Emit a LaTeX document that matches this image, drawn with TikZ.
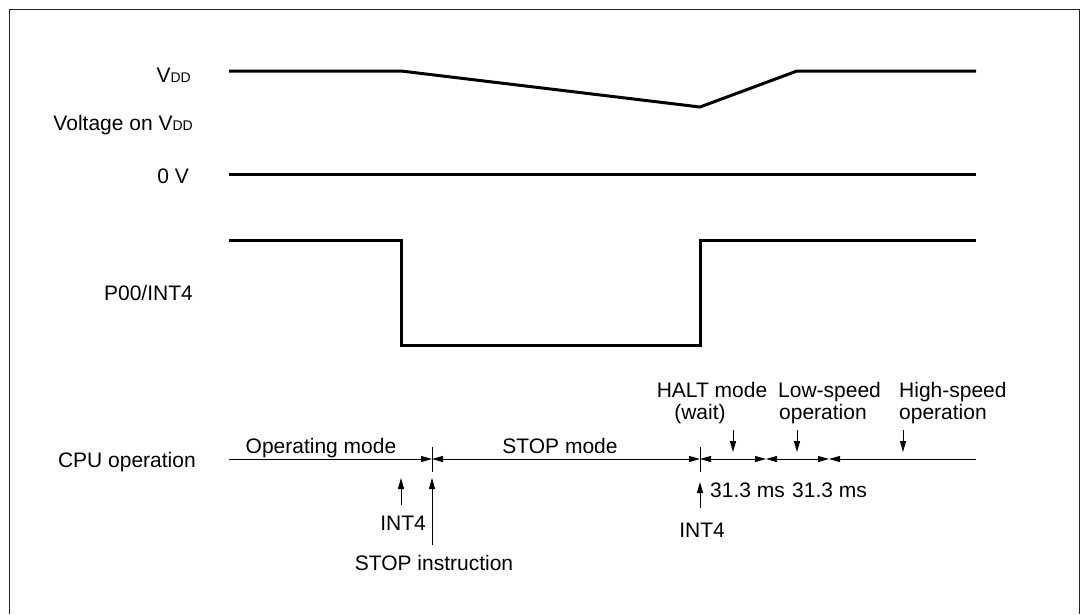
\documentclass[tikz,border=0pt]{standalone}
\usepackage{fontspec}
\setmainfont{Liberation Sans}
\usetikzlibrary{arrows.meta}
\newcommand{\vdd}{V{\fontsize{14}{14}\selectfont DD}}
\tikzset{ah/.tip={Triangle[length=11pt,width=6pt]}}
\begin{document}
\begin{tikzpicture}[x=1pt,y=-1pt,
  txt/.style={inner sep=0pt, font=\fontsize{21}{22}\selectfont},
  sig/.style={line width=3pt, line join=miter},
  dim/.style={line width=1pt},
  frm/.style={line width=1.3pt, draw=black!85},
  tk/.style={line width=1pt}]
\useasboundingbox (0,0) rectangle (1085,614);
% frame
\draw[frm] (9.5,614) -- (9.5,9.5) -- (1079.5,9.5) -- (1079.5,614);

% row labels
\node[txt, anchor=base east] (lvdd) at (191,82) {\vdd};
\node[txt, anchor=base east] (lvon) at (193,130) {Voltage on \vdd};
\node[txt, anchor=base east] (l0v) at (189,183) {0 V};
\node[txt, anchor=base east] (lp00) at (193,300) {P00/INT4};
\node[txt, anchor=base east] (lcpu) at (196,467) {CPU operation};

% voltage waveform
\draw[sig] (229,71) -- (401,71) -- (700,107) -- (797,71) -- (976,71);
\draw[sig] (229,174) -- (976,174);
% P00/INT4 waveform
\draw[sig] (229,240) -- (401,240) -- (401,345) -- (700,345) -- (700,240) -- (976,240);

% CPU operation time line
\coordinate (b0) at (229,459);
\coordinate (b1) at (432,459);
\coordinate (b2) at (700,459);
\coordinate (b3) at (766,459);
\coordinate (b4) at (829,459);
\coordinate (b5) at (976,459);
\draw[dim,-{ah}] (b0) -- (b1);
\draw[dim,{ah}-{ah}] (b1) -- (b2);
\draw[dim,{ah}-{ah}] (b2) -- (b3);
\draw[dim,{ah}-{ah}] (b3) -- (b4);
\draw[dim,{ah}-] (b4) -- (b5);
\draw[tk] ([yshift=-12.5pt]b1) -- ([yshift=12.5pt]b1);
\draw[tk] ([yshift=-12.5pt]b2) -- ([yshift=12.5pt]b2);

% mode labels
\node[txt, anchor=base] (opm) at (321,453) {Operating mode};
\node[txt, anchor=base] (stm) at (560,453) {STOP mode};
\node[txt, anchor=base] (halt1) at (712,397) {HALT mode};
\node[txt, anchor=base] (halt2) at (700,419) {(wait)};
\node[txt, anchor=base west] (low1) at (778,397) {Low-speed};
\node[txt, anchor=base west] (low2) at (779,419) {operation};
\node[txt, anchor=base west] (high1) at (899,397) {High-speed};
\node[txt, anchor=base west] (high2) at (899,419) {operation};

% down arrows
\coordinate (d1s) at (733,430); \coordinate (d1e) at (733,452);
\coordinate (d2s) at (797,430); \coordinate (d2e) at (797,452);
\coordinate (d3s) at (903,430); \coordinate (d3e) at (903,452);
\draw[dim,-{ah}] (d1s) -- (d1e);
\draw[dim,-{ah}] (d2s) -- (d2e);
\draw[dim,-{ah}] (d3s) -- (d3e);

% durations
\node[txt, anchor=base west] (t1) at (710,497) {31.3 ms};
\node[txt, anchor=base west] (t2) at (792,497) {31.3 ms};

% up arrows
\coordinate (u1s) at (401,505); \coordinate (u1e) at (401,478);
\coordinate (u2s) at (432,545); \coordinate (u2e) at (432,478);
\coordinate (u3s) at (700,508); \coordinate (u3e) at (700,482);
\draw[dim,-{ah}] (u1s) -- (u1e);
\draw[dim,-{ah}] (u2s) -- (u2e);
\draw[dim,-{ah}] (u3s) -- (u3e);
\node[txt, anchor=base] (int4a) at (403,530) {INT4};
\node[txt, anchor=base] (stopi) at (434,570) {STOP instruction};
\node[txt, anchor=base] (int4b) at (702,537) {INT4};
\end{tikzpicture}
\end{document}
